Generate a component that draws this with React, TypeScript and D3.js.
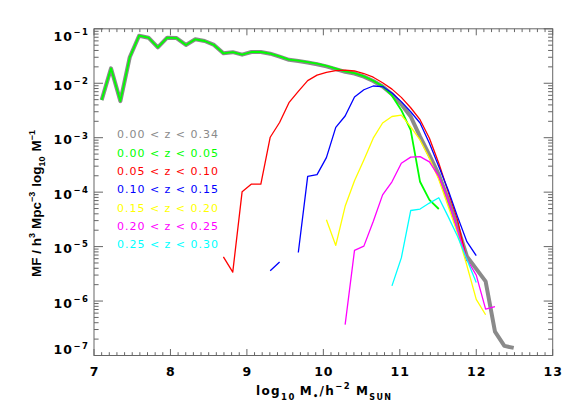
import React from "react";
import * as d3 from "d3";

// log10 stellar mass bin centres (h^-2 Msun)
const logMass = [
  7.1, 7.2225, 7.345, 7.4675, 7.59, 7.7125, 7.835, 7.9575, 8.08, 8.2025,
  8.325, 8.4475, 8.57, 8.6925, 8.815, 8.9375, 9.06, 9.1825, 9.305, 9.4275,
  9.55, 9.6725, 9.795, 9.9175, 10.04, 10.1625, 10.285, 10.4075, 10.53, 10.6525,
  10.775, 10.8975, 11.02, 11.1425, 11.265, 11.3875, 11.51, 11.6325, 11.755, 11.8775,
  12.0, 12.1225, 12.245, 12.3675, 12.49,
];

// 0.00 < z < 0.34 (all)
const mfAllStart = 0;
const mfAll = [
  4.9e-3, 1.88e-2, 4.7e-3, 3.0e-2, 7.46e-2, 6.87e-2, 4.57e-2, 6.87e-2, 6.76e-2, 5.05e-2,
  6.41e-2, 5.97e-2, 5.05e-2, 3.55e-2, 3.72e-2, 3.35e-2, 3.75e-2, 3.75e-2, 3.49e-2, 3.09e-2,
  2.69e-2, 2.57e-2, 2.40e-2, 2.24e-2, 2.04e-2, 1.82e-2, 1.62e-2, 1.51e-2, 1.32e-2, 1.10e-2,
  8.7e-3, 6.3e-3, 4.1e-3, 2.45e-3, 1.05e-3, 4.8e-4, 2.1e-4, 7.2e-5, 2.3e-5, 6.6e-6,
  3.9e-6, 2.3e-6, 2.75e-7, 1.5e-7, 1.38e-7,
];

// 0.00 < z < 0.05
const mfZ0Start = 0;
const mfZ0 = [
  4.9e-3, 1.88e-2, 4.7e-3, 3.0e-2, 7.46e-2, 6.87e-2, 4.57e-2, 6.87e-2, 6.76e-2, 5.05e-2,
  6.41e-2, 5.97e-2, 5.05e-2, 3.55e-2, 3.72e-2, 3.35e-2, 3.75e-2, 3.75e-2, 3.49e-2, 3.12e-2,
  2.72e-2, 2.60e-2, 2.45e-2, 2.30e-2, 2.08e-2, 1.86e-2, 1.65e-2, 1.53e-2, 1.34e-2, 1.11e-2,
  8.8e-3, 5.9e-3, 3.2e-3, 1.38e-3, 1.55e-4, 7.2e-5, 4.9e-5,
];

// 0.05 < z < 0.10
const mfZ1Start = 13;
const mfZ1 = [
  6.5e-6, 3.4e-6, 1.02e-4, 1.41e-4, 1.41e-4, 1.02e-3, 1.9e-3, 4.4e-3, 7.1e-3, 1.12e-2,
  1.41e-2, 1.58e-2, 1.70e-2, 1.74e-2, 1.68e-2, 1.51e-2, 1.29e-2, 1.02e-2, 7.8e-3, 5.5e-3,
  3.55e-3, 2.14e-3, 9.8e-4, 3.4e-4, 1.02e-4, 3.1e-5, 5.4e-6,
];

// 0.10 < z < 0.15
const mfZ2Start = 18;
const mfZ2 = [
  3.6e-6, 5.2e-6, null, 7.8e-6, 1.95e-4, 2.1e-4, 4.3e-4, 1.55e-3, 2.5e-3, 5.6e-3,
  7.6e-3, 8.9e-3, 8.7e-3, 6.6e-3, 4.6e-3, 3.0e-3, 1.86e-3, 7.9e-4, 2.95e-4, 1.1e-4,
  3.55e-5, 1.23e-5, 6.8e-6,
];

// 0.15 < z < 0.20
const mfZ3Start = 24;
const mfZ3 = [
  3.1e-5, 1.05e-5, 5.5e-5, 1.62e-4, 3.9e-4, 9.8e-4, 1.86e-3, 2.45e-3, 2.6e-3, 1.58e-3,
  9.1e-4, 4.2e-4, 1.7e-4, 5.5e-5, 1.78e-5, 4.5e-6, 1.07e-6, 5.6e-7,
];

// 0.20 < z < 0.25
const mfZ4Start = 26;
const mfZ4 = [
  3.7e-7, 8.5e-6, 1.02e-5, 2.9e-5, 8.9e-5, 1.55e-4, 3.4e-4, 4.4e-4, 4.5e-4, 3.6e-4,
  1.95e-4, 7.2e-5, 2.0e-5, 5.8e-6, 3.0e-6, 7.1e-7, 7.9e-7,
];

// 0.25 < z < 0.30
const mfZ5Start = 31;
const mfZ5 = [
  1.9e-6, 6.2e-6, 4.6e-5, 4.9e-5, 6.3e-5, 7.9e-5, 3.55e-5, 1.55e-5, 5.8e-6, 2.2e-6,
];

const legendLabels = [
  "0.00 < z < 0.34",
  "0.00 < z < 0.05",
  "0.05 < z < 0.10",
  "0.10 < z < 0.15",
  "0.15 < z < 0.20",
  "0.20 < z < 0.25",
  "0.25 < z < 0.30",
];
const seriesColors = ["#8a8a8a", "#00ff00", "#ff0000", "#0000ff", "#ffff00", "#ff00ff", "#00ffff"];
const seriesWidths = [4, 1.8, 1.3, 1.3, 1.3, 1.3, 1.3];

const xTickValues = [7, 8, 9, 10, 11, 12, 13];
const yTickExponents = [-7, -6, -5, -4, -3, -2, -1];

const W = 581;
const H = 415;
const L = 94;
const R = 552.7;
const T = 28.8;
const B = 355.5;
const FONT = "'Liberation Sans', Arial, Helvetica, sans-serif";
const TICKFONT = "'DejaVu Sans', 'Liberation Sans', sans-serif";

export default function App() {
  const x = d3.scaleLinear().domain([7, 13]).range([L, R]);
  const y = d3.scaleLog().domain([1e-7, 1e-1]).range([B, T]);

  const series = [
    { start: mfAllStart, vals: mfAll },
    { start: mfZ0Start, vals: mfZ0 },
    { start: mfZ1Start, vals: mfZ1 },
    { start: mfZ2Start, vals: mfZ2 },
    { start: mfZ3Start, vals: mfZ3 },
    { start: mfZ4Start, vals: mfZ4 },
    { start: mfZ5Start, vals: mfZ5 },
  ];

  const line = d3
    .line<{ m: number; v: number | null }>()
    .defined((d) => d.v != null)
    .x((d) => x(d.m))
    .y((d) => y(d.v as number));

  const xMinor = d3.range(70, 131).map((k) => k / 10);
  const yAll = y.ticks();
  const isMajorY = (v: number) => Math.abs(Math.log10(v) - Math.round(Math.log10(v))) < 1e-9;

  const axisColor = "#666";
  const xMajLen = 6.5, xMinLen = 3.3, yMajLen = 9, yMinLen = 4.6;

  return (
    <svg width={W} height={H} style={{ position: "absolute", left: 0, top: 0, background: "#fff" }}>
      <rect x={0} y={0} width={W} height={H} fill="#fff" />
      {/* curves */}
      <g fill="none" strokeLinejoin="round">
        {series.map((s, si) => (
          <path
            key={si}
            d={line(s.vals.map((v, k) => ({ m: logMass[s.start + k], v }))) || ""}
            stroke={seriesColors[si]}
            strokeWidth={seriesWidths[si]}
          />
        ))}
      </g>
      {/* frame */}
      <rect x={L} y={T} width={R - L} height={B - T} fill="none" stroke={axisColor} strokeWidth={1} />
      {/* ticks */}
      <g stroke={axisColor} strokeWidth={1}>
        {xMinor.map((m, i) => {
          const major = Math.abs(m - Math.round(m)) < 1e-9;
          const len = major ? xMajLen : xMinLen;
          return (
            <g key={i}>
              <line x1={x(m)} x2={x(m)} y1={B} y2={B - len} />
              <line x1={x(m)} x2={x(m)} y1={T} y2={T + len} />
            </g>
          );
        })}
        {yAll.map((v, i) => {
          const len = isMajorY(v) ? yMajLen : yMinLen;
          return (
            <g key={"y" + i}>
              <line x1={L} x2={L + len} y1={y(v)} y2={y(v)} />
              <line x1={R} x2={R - len} y1={y(v)} y2={y(v)} />
            </g>
          );
        })}
      </g>
      {/* x tick labels */}
      <g fontFamily={TICKFONT} fontWeight="bold" fontSize={12.5} fill="#000" textAnchor="middle" letterSpacing={1}>
        {xTickValues.map((t) => (
          <text key={t} x={x(t) + 0.5} y={375.5}>
            {t}
          </text>
        ))}
      </g>
      {/* y tick labels */}
      <g fontFamily={TICKFONT} fontWeight="bold" fill="#000" textAnchor="end">
        {yTickExponents.map((e) => {
          const ty = y(Math.pow(10, e));
          const base = Math.max(T + 12, Math.min(B - 1.3, ty + 6.5));
          return (
            <text key={e} x={89.5} y={base} fontSize={12.5} letterSpacing={1}>
              10
              <tspan fontSize={8.5} dy={-5.7} dx={0.5} letterSpacing={1.5}>
                {"\u2212" + Math.abs(e)}
              </tspan>
            </text>
          );
        })}
      </g>
      {/* legend */}
      <g fontFamily="'DejaVu Sans', sans-serif" fontSize={11}>
        {legendLabels.map((lab, i) => (
          <text
            key={lab}
            x={117}
            y={138.2 + i * 18.33}
            fill={seriesColors[i]}
            textLength={101}
            lengthAdjust="spacing"
            style={{ whiteSpace: "pre" }}
          >
            {lab}
          </text>
        ))}
      </g>
      {/* x title */}
      <text
        x={256}
        y={395}
        fontFamily={TICKFONT}
        fontWeight="bold"
        fontSize={12}
        fill="#000"
        textLength={135}
        lengthAdjust="spacing"
      >
        log
        <tspan fontSize={8.5} dy={5}>10</tspan>
        <tspan dy={-5} dx={4}>M</tspan>
        <tspan fontSize={8} dy={4}>{"\u2022"}</tspan>
        <tspan dy={-4}>/h</tspan>
        <tspan fontSize={8.5} dy={-6.5}>{"\u22122"}</tspan>
        <tspan dy={6.5} dx={5}>M</tspan>
        <tspan fontSize={8} dy={5}>SUN</tspan>
      </text>
      {/* y title */}
      <text
        transform="translate(40.5,203.5) rotate(-90)"
        textAnchor="middle"
        fontFamily={FONT}
        fontWeight="bold"
        fontSize={13.5}
        fill="#000"
      >
        MF / h
        <tspan fontSize={9} dy={-5.5}>3</tspan>
        <tspan dy={5.5} dx={4}>Mpc</tspan>
        <tspan fontSize={9} dy={-5.5}>{"\u22123"}</tspan>
        <tspan dy={5.5} dx={5}>log</tspan>
        <tspan fontSize={9} dy={4}>10</tspan>
        <tspan dy={-4} dx={5}>M</tspan>
        <tspan fontSize={9} dy={-5.5}>{"\u22121"}</tspan>
      </text>
    </svg>
  );
}
